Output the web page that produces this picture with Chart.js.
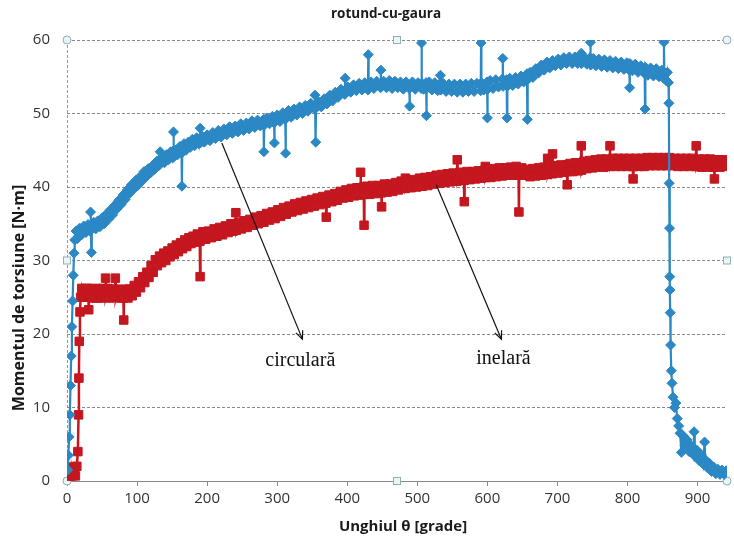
<!DOCTYPE html>
<html><head><meta charset="utf-8">
<script src="https://cdn.jsdelivr.net/npm/chart.js@4/dist/chart.umd.min.js"></script>
<style>html,body{margin:0;padding:0;background:#fff}canvas{display:block}</style>
</head><body>
<canvas id="c" width="734" height="538" style="width:734px;height:538px"></canvas>
<script>
// ---------- texts ----------
const chartTitle = 'rotund-cu-gaura';
const xAxisTitle = 'Unghiul θ [grade]';
const yAxisTitle = 'Momentul de torsiune [N·m]';
const seriesNames = ['circulară', 'inelară'];

// ---------- tick labels ----------
const xTickValues = [0, 100, 200, 300, 400, 500, 600, 700, 800, 900];
const yTickValues = [0, 10, 20, 30, 40, 50, 60];

// ---------- series: circulară (blue) — [angle (grade), torque (N·m)] ----------
const circPoints = [
[1,1.5],[2,3.5],[3,6],[4,9],[5,13],[6,17],[7,21],[8,24.5],[9,28],[10,31],[11,32.8],[13,34.0],[15,33.0],[18,34.4],[21,33.5],[24,34.7],[27,33.8],[30,34.9],[33,34.0],[33.6,36.6],[34.2,34.2],[34.8,31.1],[35.4,34.3],
[38,35.2],[41,34.3],[44,35.4],[47,34.6],[50,35.8],[53,35.0],[56,36.3],[59,35.6],[62,36.9],[65,36.2],[68,37.5],[71,37.0],[74,38.2],[77,37.6],[80,38.9],[83,38.3],[86,39.6],[89,39.1],[92,40.3],[95,39.7],[98,40.9],
[101,40.2],[104,41.4],[107,40.8],[110,42.1],[113,41.4],[116,42.5],[119,41.9],[122,42.9],[125,42.4],[128,43.5],[131,42.9],[132.5,43.8],[133,44.8],[133.5,43.2],[136,43.9],[139,43.3],[142,44.4],[145,43.7],[148,44.8],
[151,44.0],[151.5,44.9],[152,47.5],[152.5,44.1],[155,45.0],[158,44.4],[161,45.5],[163.5,44.6],[164,40.1],[164.5,44.8],[167,45.9],[170,45.0],[173,46.1],[176,45.4],[179,46.5],[182,45.6],[185,46.7],[188,45.9],
[189.5,46.6],[190,48.0],[190.5,46.0],[193,46.9],[196,46.1],[200,47.1],[204,46.3],[208,47.4],[212,46.6],[216,47.7],[220,46.8],[224,47.9],[228,47.1],[232,48.2],[236,47.3],[240,48.3],[244,47.5],[248,48.6],
[252,47.7],[256,48.7],[260,47.9],[264,49.0],[268,48.1],[272,49.1],[276,48.3],[280.5,49.2],[281,44.8],[281.5,48.4],[285,49.4],[289,48.6],[293,49.6],[295.5,48.7],[296,46.0],[296.5,49.0],[300,49.8],[304,48.9],
[308,50.1],[311.5,49.2],[312,44.6],[312.5,49.4],[316,50.4],[320,49.5],[324,50.6],[328,49.8],[332,50.9],[336,50.0],[340,51.1],[344,50.3],[348,51.4],[353.5,50.6],[354,52.5],[354.5,50.7],[355,46.1],[355.5,51.0],
[359,51.6],[363,50.9],[367,52.0],[371,51.3],[375,52.5],[379,51.7],[383,52.9],[387,52.2],[391,53.3],[396.5,52.6],[397,54.8],[397.5,52.8],[401,53.6],[405,52.9],[409,53.9],[413,53.1],[417,54.1],[421,53.2],
[425,54.2],[429.5,53.2],[430,58.0],[430.5,53.3],[434,54.3],[438,53.4],[442,54.4],[447.5,53.5],[448,55.9],[448.5,53.7],[452,54.4],[456,53.5],[460,54.5],[464,53.4],[468,54.4],[472,53.5],[476,54.3],[480,53.3],
[484,54.3],[488.5,53.4],[489,51.0],[489.5,53.6],[493,54.3],[497,53.3],[501,54.2],[505.5,53.4],[506,59.6],[506.5,54.1],[509,53.3],[512.5,54.2],[513,49.7],[513.5,53.4],[517,54.3],[521,53.2],[525,54.2],
[529,53.1],[532.5,54.1],[533,55.2],[533.5,53.2],[537,54.1],[541,53.0],[545,54.0],[549,53.0],[553,54.0],[557,52.9],[561,54.0],[565,52.9],[569,54.0],[573,53.0],[577,54.1],[581,53.0],[585,54.1],[590.5,53.1],
[591,59.6],[591.5,54.2],[595,53.2],[599.5,54.3],[600,49.4],[600.5,53.3],[604,54.5],[608,53.4],[612,54.6],[616,53.6],[621.5,54.7],[622,57.5],[622.5,53.7],[627.5,54.6],[628,49.4],[628.5,53.7],[632,54.8],
[636,53.8],[640,54.9],[644,54.0],[648,55.1],[652,54.3],[656.5,55.4],[657,49.2],[657.5,54.6],[661,55.6],[665,54.9],[669,56.1],[673,55.5],[677,56.6],[681,55.9],[685,57.0],[689,56.2],[693,57.2],[697,56.5],
[701,57.4],[705,56.6],[709,57.6],[713,56.8],[717,57.7],[721,56.8],[725,57.7],[729,56.8],[733.5,57.6],[734,58.2],[734.5,56.8],[738,57.7],[742,56.7],[746.5,57.6],[747,59.7],[747.5,56.6],[751,57.5],[755,56.5],
[759,57.4],[763,56.4],[767,57.3],[771,56.3],[775,57.2],[779,56.2],[783,57.1],[787,56.1],[791,57.0],[795,56.0],[799,56.9],[802.5,55.9],[803,53.5],[803.5,56.8],[807,55.8],[811,56.7],[815,55.6],[819,56.5],
[824.5,55.4],[825,50.6],[825.5,56.3],[829,55.2],[833,56.2],[837,55.1],[841,56.1],[845,55.0],[849,55.9],[851.5,54.8],[852,59.7],[852.5,55.6],[855,54.5],[857,55.6],[858.5,54.2],[859,51.4],[859.5,40.5],
[860,34.4],[860.3,27.8],[860.6,26.0],[861,22.9],[861.5,18.5],[862.5,15.0],[863.5,13.3],[865,11.4],[867,10.0],[869,10.6],[871,8.5],[873,7.5],[875,6.5],[877,3.9],[879,6.2],[882,4.8],[885,5.6],[888,4.0],
[891,4.8],[894,3.6],[895,6.7],[896,3.4],[899,4.2],[902,2.8],[905,3.6],[908,2.3],[910,5.3],[911,2.9],[914,1.8],[917,2.4],[920,1.3],[923,1.9],[926,1.0],[929,1.6],[932,0.9],[935,1.5],[938,0.9],[941,1.4]
];

// ---------- series: inelară (red) — [angle (grade), torque (N·m)] ----------
const inelPoints = [
[2,1.5],[4,0.6],[6,1.9],[8,0.8],[10,1.7],[12,0.7],[14,2.0],[15.5,4],[16.5,9],[17,14],[17.5,19],[18.5,23],[19.5,25.0],[21,26.2],[24,25.0],[27,26.2],[30.5,25.0],[31,23.3],[31.5,25.2],[34,26.2],[37,24.9],
[40,26.1],[43,24.9],[46,26.2],[49,24.9],[52,26.1],[54.5,25.0],[55,27.6],[55.5,25.1],[58,26.2],[61,24.9],[64,26.1],[66,25.0],[68.5,26.0],[69,27.6],[69.5,25.0],[72,26.1],[75,24.9],[78,26.0],[80.5,24.9],
[81,21.9],[81.5,25.0],[84,26.1],[87,24.9],[90,26.1],[93,25.2],[96,26.6],[99,25.7],[102,27.1],[105,26.3],[108,27.8],[111,27.0],[114,28.4],[117,27.7],[120,29.3],[123,28.4],[126,30.1],[129,29.3],[132,30.6],
[135,29.7],[138,31.0],[141,30.0],[144,31.3],[147,30.5],[150,31.7],[153,30.8],[156,32.1],[159,31.2],[162,32.4],[165,31.6],[168,32.8],[171,31.9],[174,33.1],[177,32.3],[180,33.3],[183,32.5],[186,33.6],
[189.5,32.6],[190,27.8],[190.5,32.8],[194,33.9],[198,32.9],[202,34.0],[206,33.1],[210,34.3],[214,33.3],[218,34.5],[222,33.5],[226,34.7],[230,33.8],[234,35.0],[237,34.0],[240.5,35.0],[241,36.5],[241.5,34.1],
[245,35.2],[249,34.3],[253,35.4],[257,34.5],[261,35.6],[265,34.8],[269,35.9],[273,35.0],[277,36.1],[281,35.2],[285,36.4],[289,35.5],[293,36.6],[297,35.7],[301,36.9],[305,36.0],[309,37.2],[313,36.3],
[317,37.4],[321,36.6],[325,37.7],[329,36.8],[333,37.9],[337,37.0],[341,38.1],[345,37.2],[349,38.3],[353,37.4],[357,38.5],[361,37.6],[365,38.7],[369.5,37.8],[370,35.9],[370.5,38.0],[374,38.9],[378,38.0],
[382,39.1],[386,38.2],[390,39.4],[394,38.5],[398,39.6],[402,38.6],[406,39.8],[410,38.8],[414,39.9],[418.5,38.9],[419,42.0],[419.5,39.1],[423.5,40.0],[424,34.8],[424.5,39.0],[428,40.1],[432,39.0],[436,40.2],
[440,39.1],[444,40.2],[448.5,39.2],[449,37.3],[449.5,39.3],[453,40.4],[457,39.3],[461,40.4],[465,39.4],[469,40.6],[473,39.6],[477,40.8],[482.5,39.8],[483,41.2],[483.5,39.9],[487,40.9],[491,39.9],[495,41.0],
[499,40.0],[503,41.2],[507,40.1],[511,41.3],[515,40.2],[519,41.4],[523,40.4],[527,41.6],[531,40.5],[535,41.7],[539,40.6],[543,41.8],[547,40.7],[551,41.9],[556.5,40.8],[557,43.7],[557.5,40.9],[561,42.0],
[566.5,40.9],[567,38.0],[567.5,41.0],[571,42.1],[575,41.0],[579,42.1],[583,41.1],[587,42.2],[591,41.2],[596.5,42.3],[597,42.8],[597.5,41.3],[601,42.4],[605,41.3],[609,42.5],[613,41.4],[617,42.6],[621,41.5],
[625,42.6],[629,41.6],[633,42.7],[637,41.6],[641,42.8],[644.5,41.6],[645,36.6],[645.5,41.7],[649,42.6],[653,41.6],[657,42.4],[661,41.4],[665,42.5],[669,41.5],[673,42.6],[677,41.6],[681,42.7],[685.5,41.7],
[686,43.9],[686.5,41.8],[689,42.8],[692.5,41.8],[693,44.5],[693.5,41.9],[697,42.9],[701,41.9],[705,43.0],[709,42.0],[713.5,43.0],[714,40.3],[714.5,42.1],[718,43.2],[722,42.1],[726,43.3],[730,42.2],
[733.5,43.3],[734,45.6],[734.5,42.3],[738,43.5],[742,42.5],[746,43.6],[750,42.6],[754,43.7],[758,42.7],[762,43.8],[766,42.7],[770,43.8],[774.5,42.8],[775,45.6],[775.5,42.9],[779,43.9],[783,42.8],
[787,43.9],[791,42.8],[795,43.9],[799,42.8],[803,43.9],[807.5,42.8],[808,41.1],[808.5,42.8],[812,43.9],[816,42.8],[820,43.9],[824,42.8],[828,44.0],[832,42.9],[836,44.0],[840,42.9],[844,44.0],[848,42.9],
[852,44.0],[856,42.9],[860,44.0],[864,42.9],[868,43.9],[872,42.8],[876,43.9],[880,42.8],[884,43.9],[888,42.8],[892,43.9],[897.5,42.8],[898,45.6],[898.5,42.8],[902,43.8],[906,42.7],[910,43.8],[914,42.7],
[918,43.8],[923.5,42.7],[924,41.1],[924.5,42.7],[928,43.7],[932,42.7],[936,43.7],[941,42.8]
];

// ---------- callouts (data coordinates) ----------
const calloutTexts = ['circulară', 'inelară'];
const calloutFromX = [221, 527];
const calloutFromY = [46.0, 40.3];
const calloutToX = [336, 620];
const calloutToY = [19.3, 19.3];
const calloutTextX = [333, 623];
const calloutTextY = [16.4, 16.6];

const BLUE = '#2b88c4';
const RED = '#c4171f';

const toPts = arr => arr.map(p => ({x: p[0], y: p[1]}));

const decorPlugin = {
  id: 'decor',
  beforeDatasetsDraw(chart) {
    const ctx = chart.ctx, a = chart.chartArea;
    ctx.save();
    const cx = (a.left + a.right) / 2, cy = (a.top + a.bottom) / 2;
    ctx.lineWidth = 1;
    ctx.strokeStyle = '#8fb0b4';
    ctx.fillStyle = '#eaf6f6';
    [[a.left, a.top], [a.right, a.top], [a.left, a.bottom], [a.right, a.bottom]].forEach(p => {
      ctx.beginPath(); ctx.arc(p[0], p[1], 4, 0, Math.PI * 2); ctx.fill(); ctx.stroke();
    });
    [[cx, a.top], [cx, a.bottom], [a.left, cy], [a.right, cy]].forEach(p => {
      ctx.fillRect(p[0] - 3.5, p[1] - 3.5, 7, 7); ctx.strokeRect(p[0] - 3.5, p[1] - 3.5, 7, 7);
    });
    ctx.restore();
  },
  afterDraw(chart) {
    const ctx = chart.ctx;
    const xs = chart.scales.x, ys = chart.scales.y;
    ctx.save();
    ctx.fillStyle = '#1a1a1a';
    ctx.textAlign = 'center';
    ctx.textBaseline = 'middle';
    ctx.font = 'bold 13.5px "Open Sans"';
    ctx.fillText(chartTitle, 386, 14);
    ctx.font = 'bold 15px "Open Sans"';
    ctx.fillText(xAxisTitle, 403, 527);
    ctx.save();
    ctx.translate(19, 298);
    ctx.rotate(-Math.PI / 2);
    ctx.font = 'bold 16px "Open Sans"';
    ctx.fillText(yAxisTitle, 0, 0);
    ctx.restore();
    ctx.strokeStyle = '#111';
    ctx.lineWidth = 1.2;
    for (let i = 0; i < calloutTexts.length; i++) {
      const x1 = xs.getPixelForValue(calloutFromX[i]), y1 = ys.getPixelForValue(calloutFromY[i]);
      const x2 = xs.getPixelForValue(calloutToX[i]), y2 = ys.getPixelForValue(calloutToY[i]);
      ctx.beginPath(); ctx.moveTo(x1, y1); ctx.lineTo(x2, y2); ctx.stroke();
      const ang = Math.atan2(y2 - y1, x2 - x1), L = 9, sp = 0.42;
      ctx.beginPath();
      ctx.moveTo(x2 - L * Math.cos(ang - sp), y2 - L * Math.sin(ang - sp));
      ctx.lineTo(x2, y2);
      ctx.lineTo(x2 - L * Math.cos(ang + sp), y2 - L * Math.sin(ang + sp));
      ctx.stroke();
      ctx.fillStyle = '#111';
      ctx.font = '20px "Liberation Serif"';
      ctx.fillText(calloutTexts[i], xs.getPixelForValue(calloutTextX[i]), ys.getPixelForValue(calloutTextY[i]));
    }
    ctx.restore();
  }
};

new Chart(document.getElementById('c'), {
  type: 'scatter',
  data: {
    datasets: [
      {
        label: seriesNames[0], data: toPts(circPoints), showLine: true,
        borderColor: BLUE, backgroundColor: BLUE, borderWidth: 2.2,
        pointStyle: 'rectRot', pointRadius: 5, pointBorderWidth: 1,
        pointBorderColor: BLUE, pointBackgroundColor: BLUE, tension: 0
      },
      {
        label: seriesNames[1], data: toPts(inelPoints), showLine: true,
        borderColor: RED, backgroundColor: RED, borderWidth: 2.5,
        pointStyle: 'rect', pointRadius: 6, pointBorderWidth: 1,
        pointBorderColor: RED, pointBackgroundColor: RED, tension: 0
      }
    ]
  },
  options: {
    responsive: false,
    animation: false,
    devicePixelRatio: 1,
    layout: { padding: { left: 0, right: 2, top: 40, bottom: 0 } },
    plugins: { legend: { display: false }, tooltip: { enabled: false }, title: { display: false } },
    scales: {
      x: {
        type: 'linear', min: 0, max: 942,
        afterBuildTicks: s => { s.ticks = xTickValues.map(v => ({ value: v })); },
        afterFit: s => { s.height = 57; },
        ticks: { color: '#333', font: { family: '"Open Sans"', size: 15 }, padding: 4, maxRotation: 0, autoSkip: false },
        grid: {
          drawOnChartArea: true, tickLength: 5, lineWidth: 1,
          color: c => (c.tick && c.tick.value === 0) ? '#9a9a9a' : 'rgba(0,0,0,0)',
          tickColor: '#8a8a8a'
        },
        border: { display: true, color: '#8a8a8a', dash: [3, 2] }
      },
      y: {
        type: 'linear', min: 0, max: 60,
        afterBuildTicks: s => { s.ticks = yTickValues.map(v => ({ value: v })); },
        afterFit: s => { s.width = 67; },
        ticks: { color: '#333', font: { family: '"Open Sans"', size: 15 }, padding: 17 },
        grid: { drawTicks: false, color: '#8a8a8a', lineWidth: 1 },
        border: { display: false, dash: [3, 2] }
      }
    }
  },
  plugins: [decorPlugin]
});
</script>
</body></html>
